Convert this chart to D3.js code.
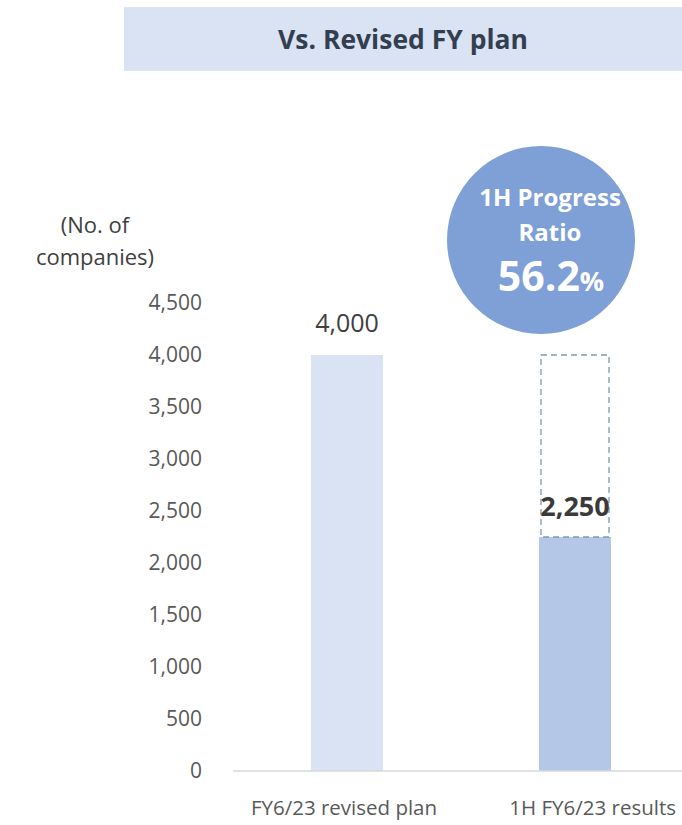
<!DOCTYPE html>
<html>
<head>
<meta charset="utf-8">
<script src="https://cdn.jsdelivr.net/npm/d3@7"></script>
<style>
  body { margin: 0; background: #fff; }
  svg { display: block; font-family: "Open Sans", sans-serif; }
</style>
</head>
<body>
<svg width="682" height="825"></svg>
<script>
    var categories = ['FY6/23 revised plan', '1H FY6/23 results']
    var values = [4000, 2250]
    var planValue = 4000 // dashed outline on the results bar
    var yTicks = [0, 500, 1000, 1500, 2000, 2500, 3000, 3500, 4000, 4500]
    var title = 'Vs. Revised FY plan'
    var yTitle = ['(No. of', 'companies)']
    var progressText = ['1H Progress', 'Ratio']
    var progressValue = '56.2'

    var width = 682
    var height = 825
    var margin = { top: 303, bottom: 54, left: 233, right: -7 }

    var svg = d3.select('svg')

    var yScale = d3.scaleLinear()
      .domain([0, 4500])
      .range([height - margin.bottom, margin.top])

    var xScale = d3.scaleBand()
      .domain(categories)
      .range([margin.left, width - margin.right])
      .paddingInner(0.684)
      .paddingOuter(0.342)

    // title banner
    svg.append('rect')
      .attr('x', 124).attr('y', 7)
      .attr('width', 558).attr('height', 64)
      .attr('fill', '#dae3f3')
    svg.append('text')
      .attr('x', 403).attr('y', 49)
      .attr('text-anchor', 'middle')
      .attr('font-size', 26.5).attr('font-weight', 'bold')
      .attr('fill', '#333f50')
      .text(title)

    // y axis labels, no line
    var yAxis = d3.axisLeft(yScale).tickValues(yTicks).tickFormat(d3.format(',')).tickSize(0).tickPadding(31)
    var gy = svg.append('g')
      .attr('transform', 'translate(' + [margin.left, 0] + ')')
      .call(yAxis)
    gy.select('.domain').remove()
    gy.selectAll('text')
      .attr('font-family', '"Open Sans", sans-serif')
      .attr('font-size', 21)
      .attr('fill', '#595959')

    svg.append('g')
      .attr('font-size', 22).attr('fill', '#404040')
      .attr('text-anchor', 'middle')
      .selectAll('text')
      .data(yTitle)
      .enter().append('text')
      .attr('x', 95)
      .attr('y', (d, i) => 233 + i * 32)
      .text(d => d)

    // bars
    svg.selectAll('rect.bar')
      .data(values)
      .enter().append('rect')
      .attr('class', 'bar')
      .attr('x', (d, i) => xScale(categories[i]))
      .attr('y', d => yScale(d))
      .attr('width', xScale.bandwidth())
      .attr('height', d => yScale(0) - yScale(d))
      .attr('fill', (d, i) => i == 0 ? '#dae3f3' : '#b4c7e7')

    // dashed outline of the plan on the results bar
    svg.append('rect')
      .attr('x', xScale(categories[1]) + 2)
      .attr('y', yScale(planValue))
      .attr('width', xScale.bandwidth() - 4)
      .attr('height', yScale(values[1]) - yScale(planValue))
      .attr('fill', 'none')
      .attr('stroke', '#8497b0')
      .attr('stroke-width', 1.3)
      .attr('stroke-dasharray', '6,4')

    // value labels
    svg.selectAll('text.val')
      .data(values)
      .enter().append('text')
      .attr('class', 'val')
      .attr('x', (d, i) => xScale(categories[i]) + xScale.bandwidth() / 2)
      .attr('y', (d, i) => i == 0 ? yScale(d) - 23 : yScale(d) - 21)
      .attr('text-anchor', 'middle')
      .attr('font-size', (d, i) => i == 0 ? 25 : 27)
      .attr('font-weight', (d, i) => i == 0 ? 'normal' : 'bold')
      .attr('fill', (d, i) => i == 0 ? '#404040' : '#3a3a3a')
      .text(d => d3.format(',')(d))

    // baseline
    svg.append('line')
      .attr('x1', margin.left).attr('x2', width)
      .attr('y1', yScale(0)).attr('y2', yScale(0))
      .attr('stroke', '#d9d9d9').attr('stroke-width', 1.5)

    // category labels (last one pushed to the right edge, like the original)
    svg.selectAll('text.cat')
      .data(categories)
      .enter().append('text')
      .attr('class', 'cat')
      .attr('y', 815)
      .attr('font-size', 20.5)
      .attr('fill', '#595959')
      .attr('text-anchor', (d, i) => i == categories.length - 1 ? 'end' : 'middle')
      .attr('x', (d, i) => i == categories.length - 1 ? width - 6 : xScale(d) + xScale.bandwidth() / 2 - 3)
      .text(d => d)

    // progress circle
    var cx = 541, cy = 240
    svg.append('circle')
      .attr('cx', cx).attr('cy', cy).attr('r', 94)
      .attr('fill', '#7f9fd7')
    svg.append('g')
      .attr('fill', '#fff').attr('font-weight', 'bold')
      .attr('font-size', 24).attr('text-anchor', 'middle')
      .selectAll('text')
      .data(progressText)
      .enter().append('text')
      .attr('x', cx + 9)
      .attr('y', (d, i) => 206 + i * 35)
      .text(d => d)
    var pct = svg.append('text')
      .attr('x', cx + 10).attr('y', 291)
      .attr('text-anchor', 'middle')
      .attr('fill', '#fff').attr('font-weight', 'bold')
    pct.append('tspan').attr('font-size', 41).text(progressValue)
    pct.append('tspan').attr('font-size', 27).text('%')
</script>
</body>
</html>
